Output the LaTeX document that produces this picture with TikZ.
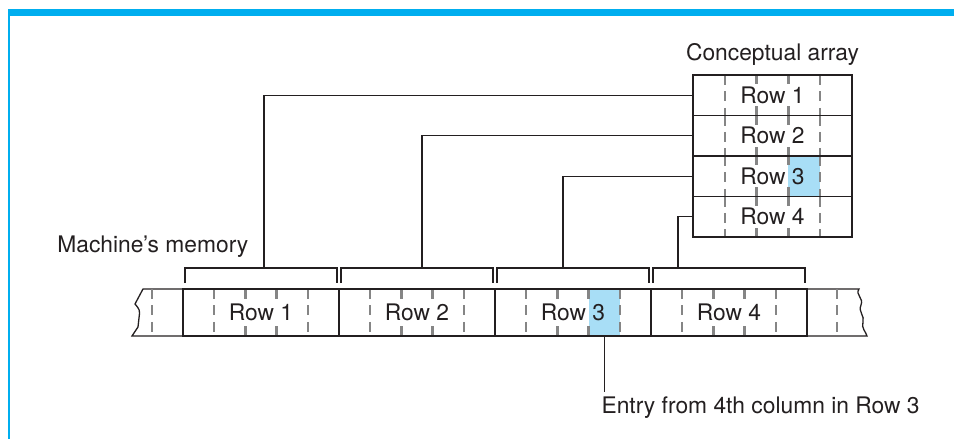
\documentclass[tikz,border=0pt]{standalone}
\usepackage{fontspec}
\setmainfont{TeX Gyre Heros}
\usepackage{xcolor}
\usepackage{tikz}
\usetikzlibrary{positioning, calc, backgrounds}

\definecolor{frameblue}{HTML}{00AEEF}
\definecolor{cellblue}{HTML}{A8DEF6}
\definecolor{dashgray}{HTML}{858585}
\definecolor{inkgray}{HTML}{231F20}

\begin{document}
\begin{tikzpicture}[
            x=0.5pt, y=-0.5pt,                 % one unit = one pixel of the layout
            font=\fontsize{11.4}{13}\selectfont,
            every node/.style={text=inkgray},
            node distance=0pt,
            wire/.style={
                draw=inkgray,
                line width=0.65pt
            },
            coldash/.style={
                draw=dashgray,
                line width=1.2pt,
                dash pattern=on 5pt off 3.2pt
            },
            gridcell/.style={
                rectangle,
                draw=inkgray,
                line width=0.65pt,
                inner sep=0pt,
                outer sep=0pt,
                path picture={
                    % outer columns run through, inner ones stop at the text
                    \foreach \k in {1,4}
                        \draw[coldash] ($(path picture bounding box.north west)!\k/5!(path picture bounding box.north east)$)
                            -- ($(path picture bounding box.south west)!\k/5!(path picture bounding box.south east)$);
                    \foreach \k in {2,3} {
                        \draw[coldash] ($(path picture bounding box.north west)!\k/5!(path picture bounding box.north east)$)
                            -- ($(path picture bounding box.west)!\k/5!(path picture bounding box.east) + (0pt,5.5pt)$);
                        \draw[coldash] ($(path picture bounding box.south west)!\k/5!(path picture bounding box.south east)$)
                            -- ($(path picture bounding box.west)!\k/5!(path picture bounding box.east) + (0pt,-5.5pt)$);
                    }
                }
            },
            arrrow/.style={gridcell, minimum width=79.5pt, minimum height=20.25pt},
            memrow/.style={gridcell, minimum width=78pt, minimum height=23.5pt},
            lbl/.style={inner sep=2pt}
        ]
            \useasboundingbox (0,0) rectangle (954,439);

            % --- MARCO ---
            \fill[frameblue] (8,9) rectangle (954,16);
            \draw[frameblue, line width=1pt] (9,16) -- (9,439);

            % --- ARREGLO CONCEPTUAL ---
            \node [arrrow] (crow1) at (772.5,95.25) {Row 1};
            \node [arrrow, below=of crow1] (crow2) {Row 2};
            \node [arrrow, below=of crow2] (crow3) {Row 3};
            \node [arrrow, below=of crow3] (crow4) {Row 4};

            \node [lbl, above=2.5pt of crow1] (arraylbl) {Conceptual array};

            % --- MEMORIA ---
            \node [memrow] (mrow1) at (261,312.5) {Row 1};
            \node [memrow, right=of mrow1] (mrow2) {Row 2};
            \node [memrow, right=of mrow2] (mrow3) {Row 3};
            \node [memrow, right=of mrow3] (mrow4) {Row 4};

            \node [lbl, anchor=base west] (memlbl) at (53,252) {Machine’s memory};

            % extremos cortados de la memoria
            \draw[wire] (mrow1.north west) -- (143,289) -- (135,304) .. controls (140,310) .. (139,318)
                -- (138,327) -- (132,336) -- (mrow1.south west);
            \draw[coldash] (152,289) -- (152,336);
            \draw[wire] (mrow4.north east) -- (859,289) .. controls (855,295) and (864,298) .. (861,305)
                .. controls (858,312) and (865,316) .. (863,322) .. controls (861,328) and (866,332) .. (867,336)
                -- (mrow4.south east);
            \draw[coldash] (837,289) -- (837,336);

            % --- CELDA RESALTADA ---
            \begin{scope}[on background layer]
                \fill[cellblue] ($(crow3.north west)!0.6!(crow3.north east)$) rectangle ($(crow3.south west)!0.8!(crow3.south east)$);
                \fill[cellblue] ($(mrow3.north west)!0.6!(mrow3.north east)$) rectangle ($(mrow3.south west)!0.8!(mrow3.south east)$);
            \end{scope}

            % --- LLAVES ---
            \draw[wire] ([shift={(1pt,3pt)}]mrow1.north west) -- ++(0pt,7.5pt) -| ([shift={(-1pt,3pt)}]mrow1.north east);
            \draw[wire] ([shift={(1pt,3pt)}]mrow2.north west) -- ++(0pt,7.5pt) -| ([shift={(-1pt,3pt)}]mrow2.north east);
            \draw[wire] ([shift={(1pt,3pt)}]mrow3.north west) -- ++(0pt,7.5pt) -| ([shift={(-1pt,3pt)}]mrow3.north east);
            \draw[wire] ([shift={(1pt,3pt)}]mrow4.north west) -- ++(0pt,7.5pt) -| ([shift={(-1pt,3pt)}]mrow4.north east);

            \coordinate (tap1) at ([shift={(40.5pt,10.5pt)}]mrow1.north west);
            \coordinate (tap2) at ([shift={(41.5pt,10.5pt)}]mrow2.north west);
            \coordinate (tap3) at ([shift={(34pt,10.5pt)}]mrow3.north west);
            \coordinate (tap4) at ([shift={(13.5pt,10.5pt)}]mrow4.north west);

            % --- ENLACES ---
            \draw[wire] (crow1.west) -| (tap1);
            \draw[wire] (crow2.west) -| (tap2);
            \draw[wire] (crow3.west) -| (tap3);
            \draw[wire] (crow4.west) -| (tap4);

            \coordinate (entry) at ($(mrow3.south west)!0.7!(mrow3.south east)$);
            \node [lbl, anchor=base west] (entrylbl) at ([shift={(-3.5pt,-38.5pt)}]entry) {Entry from 4th column in Row 3};
            \draw[wire] (entry) -- (entry |- entrylbl.north);
        \end{tikzpicture}
\end{document}
